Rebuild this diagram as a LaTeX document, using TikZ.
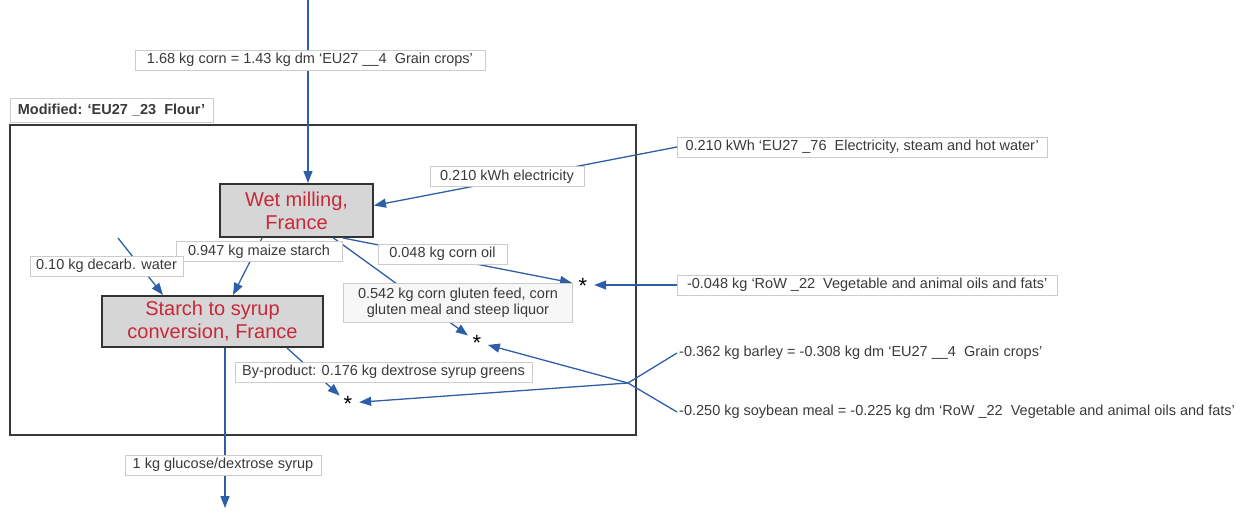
\documentclass[tikz,border=0pt]{standalone}
\usepackage{fontspec}
\setmainfont{Liberation Sans}
\usetikzlibrary{arrows.meta}
\definecolor{flowblue}{HTML}{2F5EA8}
\definecolor{txtgray}{HTML}{3A3A3A}
\definecolor{boxred}{HTML}{C8283A}
\definecolor{procfill}{HTML}{D6D6D6}
\tikzset{
  flow/.style={draw=flowblue, line width=1.3pt, -{Triangle[length=12pt,width=9pt]}},
  flowplain/.style={draw=flowblue, line width=1.3pt},
  lbl/.style={draw=black!20, fill=white, text=txtgray, font=\fontsize{14.5}{16}\selectfont,
    inner xsep=4pt, inner ysep=2pt, minimum height=20pt},
  freetext/.style={text=txtgray, font=\fontsize{14.5}{16}\selectfont, inner sep=2pt},
  procbox/.style={draw=black!80, line width=2pt, fill=procfill, text=boxred, align=center,
    font=\fontsize{20}{23}\selectfont, inner sep=0pt},
  frame/.style={draw=black!78, line width=2pt, inner sep=0pt},
  starnode/.style={circle, inner sep=0pt, minimum size=22pt,
    label={[font=\fontsize{22}{22}\selectfont, inner sep=0pt, yshift=-0.5pt]center:*}}
}
\begin{document}
\begin{tikzpicture}[x=1pt,y=-1pt]
\useasboundingbox (0,0) rectangle (1242,512);

% container of the modified process
\node[frame, minimum width=626pt, minimum height=310pt] (mod) at (323,280) {};
\node[lbl, font=\fontsize{14.5}{16}\selectfont\bfseries, minimum width=203pt, minimum height=24pt]
  (modlbl) at (111.5,110) {Modified: ‘EU27 \_23~ Flour’};

% process boxes
\node[procbox, minimum width=153pt, minimum height=53pt] (wm) at (296.5,210.5)
  {Wet milling,\\France};
\node[procbox, minimum width=221pt, minimum height=51pt] (ss) at (212.5,321.5)
  {Starch to syrup\\conversion, France};

% inputs and outputs outside the container
\coordinate (top) at (308,0);
\coordinate (bottom) at (225,508);
\coordinate (waterin) at (118,238);
\coordinate (j) at (628,383);
\node[lbl, anchor=west, minimum width=370pt] (elecsrc) at (677,147)
  {0.210 kWh ‘EU27 \_76~ Electricity, steam and hot water’};
\node[lbl, anchor=west, minimum width=380pt] (oilsrc) at (677,285)
  {-0.048 kg ‘RoW \_22~ Vegetable and animal oils and fats’};
\node[freetext, anchor=west] (barley) at (677,353)
  {-0.362 kg barley = -0.308 kg dm ‘EU27 \_\_4~ Grain crops’};
\node[freetext, anchor=west] (soy) at (677,412)
  {-0.250 kg soybean meal = -0.225 kg dm ‘RoW \_22~ Vegetable and animal oils and fats’};

% substitution points
\node[starnode] (s1) at (583,285) {};
\node[starnode] (s2) at (477,342) {};
\node[starnode] (s3) at (348,403) {};

% flows
\draw[flow] (top) -- (top |- wm.north);
\draw[flow] (elecsrc.west) -- ([yshift=5pt]wm.east);
\draw[flow] ([xshift=-34.5pt]wm.south) -- ([xshift=20.5pt]ss.north);
\draw[flow] (waterin) -- ([xshift=-49.5pt]ss.north);
\draw[flow] ([xshift=46.5pt]wm.south) -- (s1);
\draw[flow] ([xshift=37pt]wm.south) -- (s2);
\draw[flow] (oilsrc.west) -- (s1);
\draw[flow] ([xshift=74.5pt]ss.south) -- (s3);
\draw[flowplain] (barley.west) -- (j);
\draw[flow] (j) -- (s3);
\draw[flowplain] (soy.west) -- (j);
\draw[flow] (j) -- (s2);
\draw[flow] ([xshift=12.5pt]ss.south) -- (bottom);

% flow labels
\node[lbl, minimum width=350pt] (cornlbl) at (310,60) {1.68 kg corn = 1.43 kg dm ‘EU27 \_\_4~ Grain crops’};
\node[lbl, minimum width=154pt] (eleclbl) at (507,176.5) {0.210 kWh electricity};
\node[lbl, minimum width=166pt] (maizelbl) at (259,251.5) {0.947 kg maize starch};
\node[lbl, minimum width=153pt] (waterlbl) at (106.5,266) {0.10 kg decarb. water};
\node[lbl, minimum width=129pt] (oillbl) at (442.5,254) {0.048 kg corn oil};
\node[lbl, fill=black!3, align=center, font=\fontsize{14.5}{16}\selectfont,
  minimum width=229pt, minimum height=39pt] (glutenlbl) at (458,302.5)
  {0.542 kg corn gluten feed, corn\\gluten meal and steep liquor};
\node[lbl, minimum width=297pt] (byprodlbl) at (383.5,372) {By-product: 0.176 kg dextrose syrup greens};
\node[lbl, minimum width=196pt] (outlbl) at (223,465) {1 kg glucose/dextrose syrup};
\end{tikzpicture}
\end{document}
